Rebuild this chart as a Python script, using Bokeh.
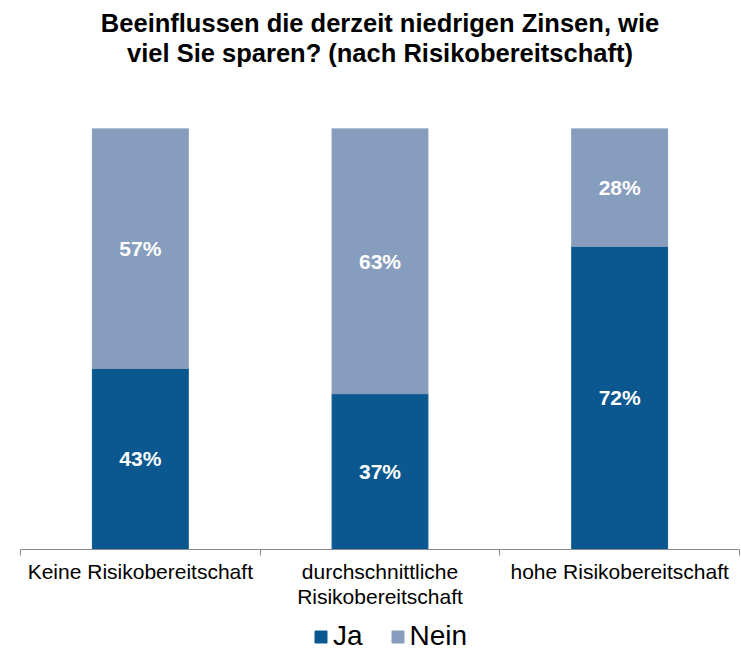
from bokeh.plotting import figure
from bokeh.layouts import column
from bokeh.models import (ColumnDataSource, Range1d, FixedTicker, CustomJSTickFormatter,
                          Legend, LegendItem, Title, LabelSet)
from bokeh.core.properties import value
from bokeh.embed import file_html
from bokeh.resources import INLINE

title_lines = ["Beeinflussen die derzeit niedrigen Zinsen, wie",
               "viel Sie sparen? (nach Risikobereitschaft)"]
categories = ["Keine Risikobereitschaft",
              "durchschnittliche\nRisikobereitschaft",
              "hohe Risikobereitschaft"]
series = ["Ja", "Nein"]
ja = [43, 37, 72]
nein = [57, 63, 28]
colors = ["#0b5890", "#879dbd"]

FONT = "Liberation Sans"

x = [i + 0.5 for i in range(len(categories))]
src = ColumnDataSource(dict(
    x=x, Ja=ja, Nein=nein,
    ja_mid=[v / 2 for v in ja],
    nein_mid=[a + b / 2 for a, b in zip(ja, nein)],
    ja_lab=[f"{v}%" for v in ja],
    nein_lab=[f"{v}%" for v in nein],
))

p = figure(width=741, height=614,
           x_range=Range1d(0, len(categories)), y_range=Range1d(0, 100),
           output_backend="svg", toolbar_location=None, y_axis_location=None,
           min_border_left=20, min_border_right=2, min_border_top=128,
           min_border_bottom=65)
p.outline_line_color = None
p.grid.visible = False
p.background_fill_color = "white"
p.border_fill_color = "white"

renderers = p.vbar_stack(series, x="x", width=0.4, source=src, color=colors)

ax = p.xaxis[0]
ax.ticker = FixedTicker(ticks=x, minor_ticks=list(range(len(categories) + 1)))
ax.formatter = CustomJSTickFormatter(args=dict(labels=categories),
                                     code="return labels[Math.floor(tick)];")
ax.major_tick_line_color = None
ax.major_tick_out = 0
ax.major_tick_in = 0
ax.minor_tick_out = 6
ax.minor_tick_in = 0
ax.minor_tick_line_color = "#898989"
ax.axis_line_color = "#898989"
ax.major_label_text_font = FONT
ax.major_label_text_font_size = "21px"
ax.major_label_text_color = "#000000"
ax.major_label_standoff = 4
ax.major_label_text_line_height = 1.1

# spacer closest to the plot, then the two title lines
p.add_layout(Title(text=" ", text_font_size="1px", standoff=59), "above")
p.add_layout(Title(text=title_lines[1], align="center", text_font=FONT,
                   text_font_size="25.5px", text_font_style="bold",
                   text_color="#000000", standoff=0), "above")
p.add_layout(Title(text=title_lines[0], align="center", text_font=FONT,
                   text_font_size="25.5px", text_font_style="bold",
                   text_color="#000000", standoff=0), "above")

for ycol, tcol in (("ja_mid", "ja_lab"), ("nein_mid", "nein_lab")):
    p.add_layout(LabelSet(x="x", y=ycol, text=tcol, source=src,
                          text_align="center", text_baseline="middle",
                          text_color="white", text_font=value(FONT),
                          text_font_style="bold", text_font_size="21px"))

# legend strip below the chart
lp = figure(width=741, height=40, x_range=Range1d(0, 1), y_range=Range1d(0, 1),
            output_backend="svg", toolbar_location=None,
            x_axis_location=None, y_axis_location=None, min_border=0)
lp.outline_line_color = None
lp.grid.visible = False
lp.border_fill_color = "white"
lp.background_fill_color = "white"
keys = lp.vbar_stack(series, x="x", width=0.4, source=src, color=colors)
for k in keys:
    k.visible = False
legend = Legend(items=[LegendItem(label=s, renderers=[r]) for s, r in zip(series, keys)],
                orientation="horizontal", location=(293, 2),
                label_text_font=FONT, label_text_font_size="28px",
                label_text_color="#000000",
                glyph_width=15, glyph_height=15, label_standoff=5, spacing=27,
                padding=0, margin=0, border_line_color=None,
                background_fill_alpha=0, inactive_fill_alpha=0)
lp.add_layout(legend)

open("out.html", "w").write(file_html(column(p, lp, spacing=0), INLINE))
